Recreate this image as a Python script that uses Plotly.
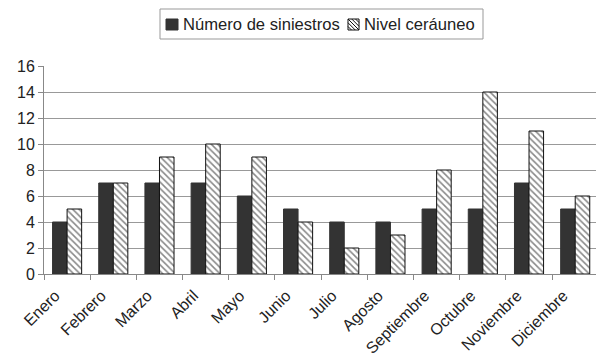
import plotly.graph_objects as go

meses = ["Enero", "Febrero", "Marzo", "Abril", "Mayo", "Junio", "Julio",
         "Agosto", "Septiembre", "Octubre", "Noviembre", "Diciembre"]
siniestros = [4, 7, 7, 7, 6, 5, 4, 4, 5, 5, 7, 5]
nivel_ceraunico = [5, 7, 9, 10, 9, 4, 2, 3, 8, 14, 11, 6]
y_ticks = [0, 2, 4, 6, 8, 10, 12, 14, 16]

W, H = 596, 358
M_L, M_R, M_T, M_B = 44, 0, 66, 84
font = dict(family="Liberation Sans, Arial, sans-serif", size=16, color="#222222")
legend_font = dict(font, size=16.6)
DARK = "#333333"
INK = "#111111"


def px(x):
    """Pixel column -> paper x."""
    return (x - M_L) / (W - M_L - M_R)


def py(y):
    """Pixel row -> paper y."""
    return (H - M_B - y) / (H - M_T - M_B)


fig = go.Figure()
fig.add_trace(go.Bar(
    x=meses, y=siniestros, name="Número de siniestros",
    marker=dict(color=DARK, line=dict(color=DARK, width=1)),
))
fig.add_trace(go.Bar(
    x=meses, y=nivel_ceraunico, name="Nivel ceráuneo",
    marker=dict(
        color="white",
        line=dict(color=INK, width=1),
        pattern=dict(shape="\\", fgcolor=INK, bgcolor="white",
                     size=4.5, solidity=0.35),
    ),
))

# Legend drawn by hand: framed box with a solid key and a hatched key
shapes = [
    dict(type="rect", xref="paper", yref="paper",
         x0=px(160), x1=px(483), y0=py(39), y1=py(9),
         line=dict(color="#999999", width=1), fillcolor="white"),
    dict(type="rect", xref="paper", yref="paper",
         x0=px(166), x1=px(178), y0=py(30), y1=py(19),
         line=dict(color=DARK, width=1), fillcolor=DARK),
]
kx0, kx1, ky0, ky1 = 348, 359, 19, 30
shapes.append(dict(type="rect", xref="paper", yref="paper",
                   x0=px(kx0), x1=px(kx1), y0=py(ky1), y1=py(ky0),
                   line=dict(color=INK, width=1), fillcolor="white"))
for k in (-7.5, -3.75, 0, 3.75, 7.5):
    shapes.append(dict(
        type="line", xref="paper", yref="paper",
        x0=px(kx0 + max(0, k)), y0=py(ky0 + max(0, -k)),
        x1=px(kx1 - max(0, -k)), y1=py(ky1 - max(0, k)),
        line=dict(color=INK, width=1)))

annotations = [
    dict(text="Número de siniestros", xref="paper", yref="paper",
         x=px(181), y=py(24.5), xanchor="left", yanchor="middle",
         showarrow=False, font=legend_font),
    dict(text="Nivel ceráuneo", xref="paper", yref="paper",
         x=px(362), y=py(24.5), xanchor="left", yanchor="middle",
         showarrow=False, font=legend_font),
]

fig.update_layout(
    width=W, height=H,
    margin=dict(l=M_L, r=M_R, t=M_T, b=M_B, autoexpand=False),
    paper_bgcolor="white", plot_bgcolor="white",
    font=font,
    barmode="group", bargap=0.37, bargroupgap=0,
    showlegend=False,
    shapes=shapes,
    annotations=annotations,
)
fig.update_xaxes(
    range=[-0.5, 11.45], automargin=False,
    tickson="boundaries", ticks="outside", ticklen=5, tickcolor="#888888",
    tickangle=-45, ticklabelshift=-12, ticklabelstandoff=5,
    showline=True, linecolor="#888888", linewidth=1,
    showgrid=False, tickfont=font,
)
fig.update_yaxes(
    range=[0, 16], tickvals=y_ticks, automargin=False,
    ticks="outside", ticklen=5, tickcolor="#888888",
    showline=True, linecolor="#888888", linewidth=1,
    showgrid=True, gridcolor="#999999", gridwidth=1,
    zeroline=False, tickfont=font,
)

fig.write_html("out.html")
